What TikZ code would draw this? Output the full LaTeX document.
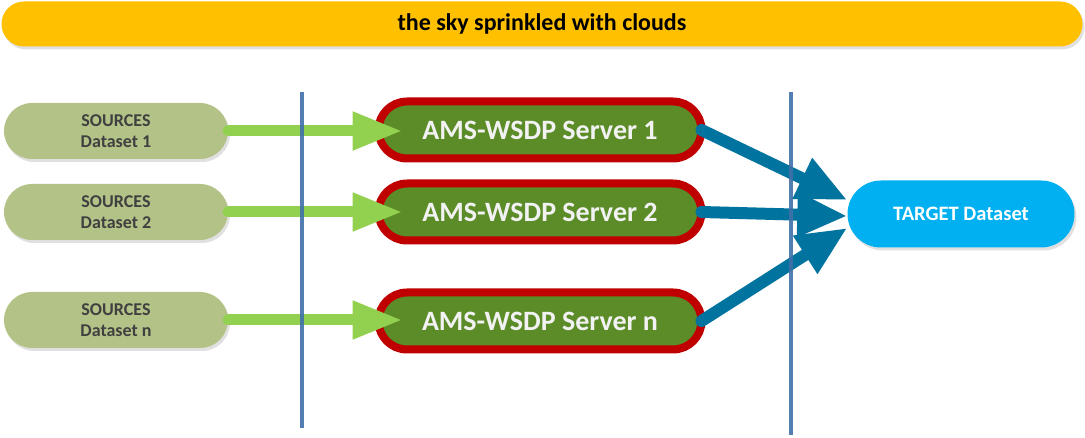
\documentclass[tikz,border=0pt]{standalone}
\usepackage{fontspec}
\setmainfont{Carlito}
\usetikzlibrary{positioning,arrows.meta,shapes.misc,shadows}

\definecolor{skycol}{HTML}{FFC000}
\definecolor{srccol}{HTML}{B3C387}
\definecolor{srvcol}{HTML}{5B8C28}
\definecolor{srvline}{HTML}{C00000}
\definecolor{tgtcol}{HTML}{00B0F0}
\definecolor{laneline}{HTML}{3F70A8}
\definecolor{inarrow}{HTML}{92D050}
\definecolor{outarrow}{HTML}{00739E}

\tikzset{
  shade/.style={drop shadow={shadow xshift=2pt, shadow yshift=-3pt,
      fill=black!12, opacity=1}},
  sky/.style={rounded rectangle, fill=skycol, shade, inner sep=0pt,
      minimum width=1081pt, minimum height=45pt,
      font=\bfseries\fontsize{24}{28}\selectfont},
  source/.style={rounded rectangle, fill=srccol, shade, inner sep=0pt,
      minimum width=224pt, minimum height=56pt, align=center,
      text=black!75, font=\bfseries\fontsize{18}{21}\selectfont},
  server/.style={rounded rectangle, fill=srvcol, draw=srvline,
      line width=8pt, shade, inner sep=0pt,
      minimum width=323pt, minimum height=57pt, text=white!95!black,
      font=\bfseries\fontsize{28}{32}\selectfont},
  target/.style={rounded rectangle, fill=tgtcol, shade, inner sep=0pt,
      minimum width=227pt, minimum height=67pt, text=white,
      font=\bfseries\fontsize{20.5}{24}\selectfont},
  feed/.style={draw=inarrow, line width=11pt, line cap=round,
      -{Triangle[length=50pt, width=36pt]}},
  merge/.style={draw=outarrow, line width=12pt, line cap=round,
      -{Triangle[length=50pt, width=42pt]}},
  lane/.style={draw=laneline, line width=3.5pt, opacity=0.9}
}

\begin{document}
\begin{tikzpicture}[x=1pt, y=-1pt]
    \useasboundingbox (0,0) rectangle (1085,438);

    % vertices

    \node[sky] (sky) at (542,24) {the sky sprinkled with clouds};

    \node[source] (src1) at (116,131) {SOURCES\\Dataset 1};
    \node[source] (src2) at (116,212) {SOURCES\\Dataset 2};
    \node[source] (srcn) at (116,320) {SOURCES\\Dataset n};

    \node[server] (srv1) at (540,130) {AMS-WSDP Server 1};
    \node[server] (srv2) at (540,212) {AMS-WSDP Server 2};
    \node[server] (srvn) at (540,321) {AMS-WSDP Server n};

    \node[target] (tgt) at (961,214) {TARGET Dataset};

    \coordinate (lane1 top) at (302,92);
    \coordinate (lane1 bot) at (302,428);
    \coordinate (lane2 top) at (791,92);
    \coordinate (lane2 bot) at (791,435);

    % edges

    \draw[feed] (src1.east) to ([xshift=28pt]srv1.west |- src1.east);
    \draw[feed] (src2.east) to ([xshift=28pt]srv2.west |- src2.east);
    \draw[feed] (srcn.east) to ([xshift=28pt]srvn.west |- srcn.east);

    \draw[merge] ([xshift=-4pt]srv1.east) to ([yshift=14pt]tgt.west);
    \draw[merge] ([xshift=-4pt]srv2.east) to ([yshift=-2pt]tgt.west);
    \draw[merge] ([xshift=-4pt]srvn.east) to ([yshift=-14pt]tgt.west);

    \draw[lane] (lane1 top) to (lane1 bot);
    \draw[lane] (lane2 top) to (lane2 bot);
  \end{tikzpicture}
\end{document}
